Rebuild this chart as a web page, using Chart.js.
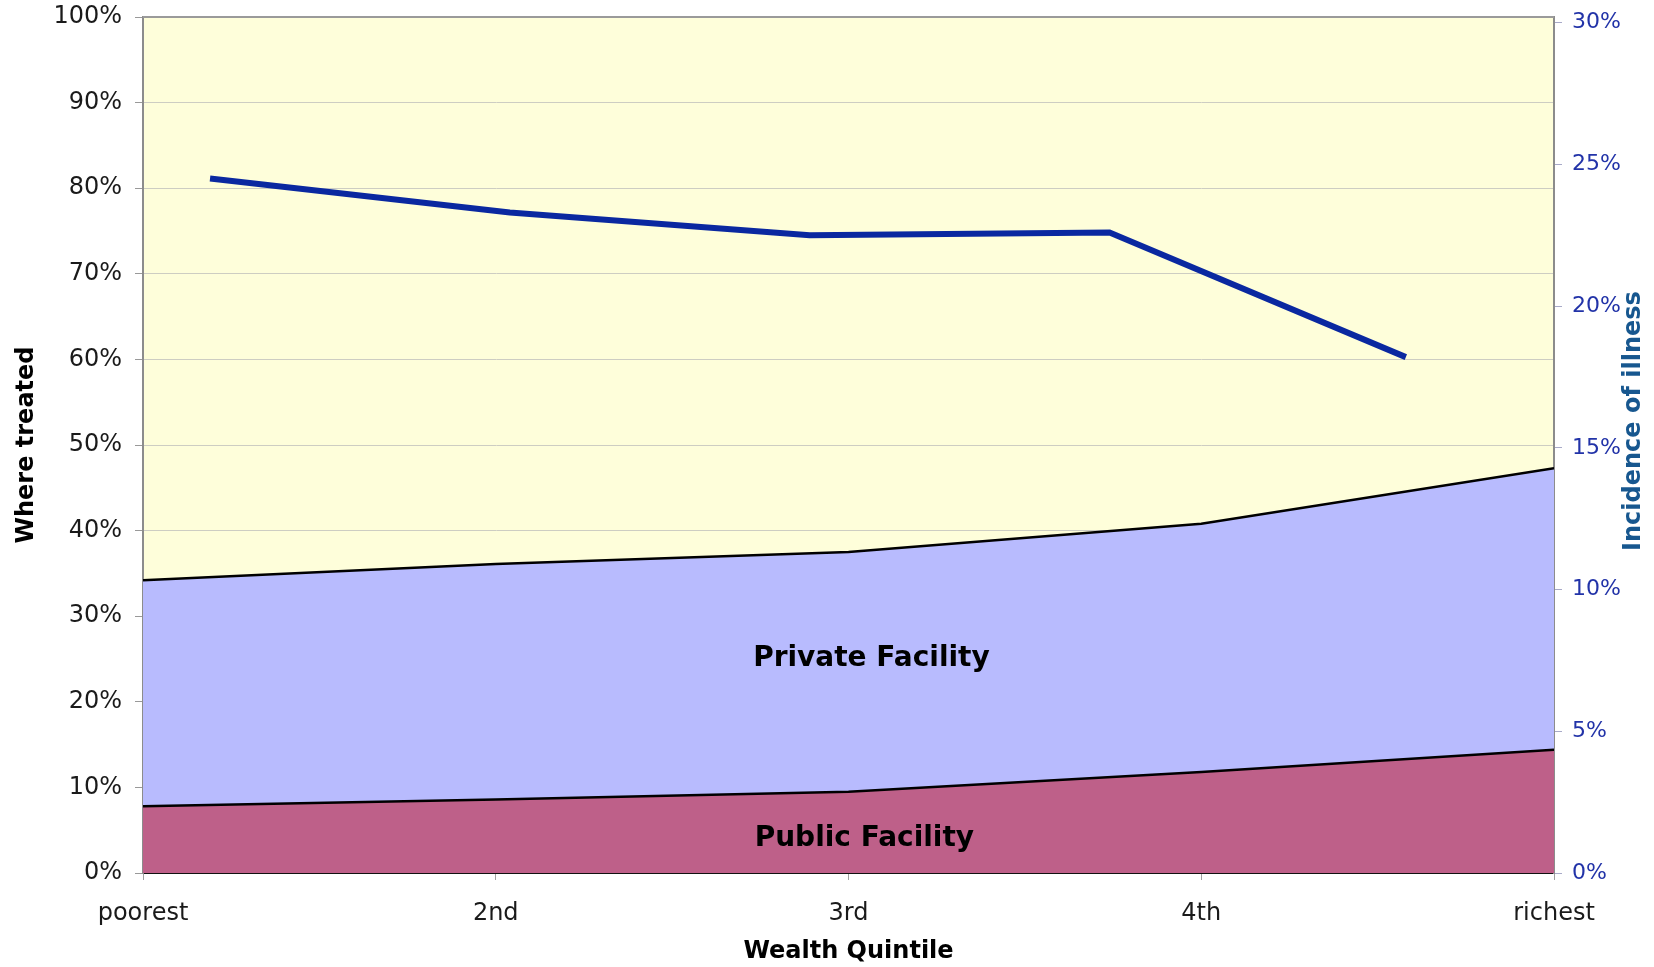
<!DOCTYPE html>
<html>
<head>
<meta charset="utf-8">
<title>Where treated by wealth quintile</title>
<script src="https://cdn.jsdelivr.net/npm/chart.js@4.4.1/dist/chart.umd.min.js"></script>
<style>
html, body { margin: 0; padding: 0; background: #fff; }
#wrap { position: relative; width: 1654px; height: 967px; }
</style>
</head>
<body>
<div id="wrap"><canvas id="chart"></canvas></div>
<script>
/* data */
var quintiles = ["poorest", "2nd", "3rd", "4th", "richest"];
// % treated at a public facility
var publicShare = [7.8, 8.6, 9.5, 11.8, 14.4];
// % treated at a private facility (stacked on public)
var privateShare = [26.4, 27.5, 28.0, 29.0, 32.9];
// incidence of illness, right axis (%)
var illness = [24.5, 23.3, 22.5, 22.6, 18.2];
// where the illness points sit along the quintile axis
var illnessPos = [0.19, 1.04, 1.89, 2.74, 3.58];
// right axis tick values
var rightTicks = [0, 5, 10, 15, 20, 25, 30];

var areaLabels = [
	{ text: "Private Facility", x: 2.065, y: 25.0 },
	{ text: "Public Facility", x: 2.045, y: 4.0 }
];

function toPoints(xs, ys){
	var out = [];
	for(var i = 0; i < ys.length; i++){
		out.push({ x: xs ? xs[i] : i, y: ys[i] });
	}
	return out;
}

var tickFont = { family: "'DejaVu Sans', Verdana, sans-serif", size: 24 };
var titleFont = { family: "'DejaVu Sans', Verdana, sans-serif", size: 24, weight: "bold" };

/* yellow plot area, frame, area names and the right axis title */
var decor = {
	id: "decor",
	beforeDraw: function(chart){
		var a = chart.chartArea, ctx = chart.ctx;
		ctx.save();
		ctx.fillStyle = "#FEFEDA";
		ctx.fillRect(a.left, a.top, a.right - a.left, a.bottom - a.top);
		ctx.restore();
	},
	afterDraw: function(chart){
		var a = chart.chartArea, ctx = chart.ctx;
		var sx = chart.scales.x, sy = chart.scales.y;
		ctx.save();
		ctx.strokeStyle = "#9a9a9a";
		ctx.lineWidth = 2;
		ctx.beginPath();
		ctx.moveTo(a.left, a.top);
		ctx.lineTo(a.right, a.top);
		ctx.stroke();

		ctx.fillStyle = "#000";
		ctx.font = "bold 28px 'DejaVu Sans', Verdana, sans-serif";
		ctx.textAlign = "center";
		ctx.textBaseline = "middle";
		areaLabels.forEach(function(l){
			ctx.fillText(l.text, sx.getPixelForValue(l.x), sy.getPixelForValue(l.y));
		});

		// right title reads bottom to top, like the left one
		ctx.translate(1634, a.top + (a.bottom - a.top) * 0.472);
		ctx.rotate(-Math.PI / 2);
		ctx.fillStyle = "#17578F";
		ctx.font = "bold 24px 'DejaVu Sans', Verdana, sans-serif";
		ctx.fillText("Incidence of illness", 0, 0);
		ctx.restore();
	}
};

// keep the tick label overhang from pushing the plot area down
function fixVertical(width){
	return function(s){
		s.width = width;
		s.paddingTop = 0;
		s.paddingBottom = 0;
	};
}

var ctx = document.getElementById("chart");
var chart = new Chart(ctx, {
	type: "line",
	data: {
		datasets: [
			{
				label: "Public Facility",
				data: toPoints(null, publicShare),
				yAxisID: "y",
				backgroundColor: "#BE6089",
				borderColor: "#000",
				borderWidth: 2.5,
				pointRadius: 0,
				fill: "origin",
				order: 1
			},
			{
				label: "Private Facility",
				data: toPoints(null, privateShare),
				yAxisID: "y",
				backgroundColor: "#B8BBFE",
				borderColor: "#000",
				borderWidth: 2.5,
				pointRadius: 0,
				fill: "-1",
				order: 1
			},
			{
				label: "Incidence of illness",
				data: toPoints(illnessPos, illness),
				yAxisID: "y1",
				borderColor: "#0A28A0",
				borderWidth: 6,
				borderCapStyle: "butt",
				pointRadius: 0,
				tension: 0,
				fill: false,
				order: 0
			}
		]
	},
	options: {
		responsive: true,
		maintainAspectRatio: false,
		animation: false,
		layout: { padding: { top: 17, left: 0, right: 0, bottom: 0 } },
		plugins: {
			legend: { display: false },
			tooltip: { enabled: false }
		},
		scales: {
			x: {
				type: "linear",
				min: 0,
				max: 4,
				afterFit: function(s){ s.height = 94; },
				grid: { drawOnChartArea: false, tickLength: 7, tickColor: "#a0a0a0" },
				border: { color: "#111", width: 2 },
				ticks: {
					stepSize: 1,
					autoSkip: false,
					padding: 19,
					color: "#1a1a1a",
					font: tickFont,
					callback: function(v){ return quintiles[v]; }
				},
				title: {
					display: true,
					text: "Wealth Quintile",
					color: "#000",
					font: titleFont,
					padding: { top: 0, bottom: 1 }
				}
			},
			y: {
				position: "left",
				stacked: true,
				min: 0,
				max: 100,
				afterFit: fixVertical(143),
				grid: { color: "#CDCDC2", lineWidth: 1, tickLength: 8, tickColor: "#999" },
				border: { color: "#8c8c8c", width: 2 },
				ticks: {
					stepSize: 10,
					padding: 13,
					color: "#1a1a1a",
					font: tickFont,
					callback: function(v){ return v + "%"; }
				},
				title: {
					display: true,
					text: "Where treated",
					color: "#000",
					font: titleFont,
					padding: { top: 12, bottom: 0 }
				}
			},
			y1: {
				position: "right",
				min: 0,
				max: 30.2,
				afterFit: fixVertical(100),
				afterBuildTicks: function(s){
					s.ticks = rightTicks.map(function(v){ return { value: v }; });
				},
				grid: { drawOnChartArea: false, tickLength: 8, tickColor: "#a8aac8" },
				border: { color: "#8c8c8c", width: 2 },
				ticks: {
					padding: 10,
					color: "#2233A8",
					font: { family: "'DejaVu Sans', Verdana, sans-serif", size: 22 },
					callback: function(v){ return v + "%"; }
				}
			}
		}
	},
	plugins: [decor]
});
</script>
</body>
</html>
